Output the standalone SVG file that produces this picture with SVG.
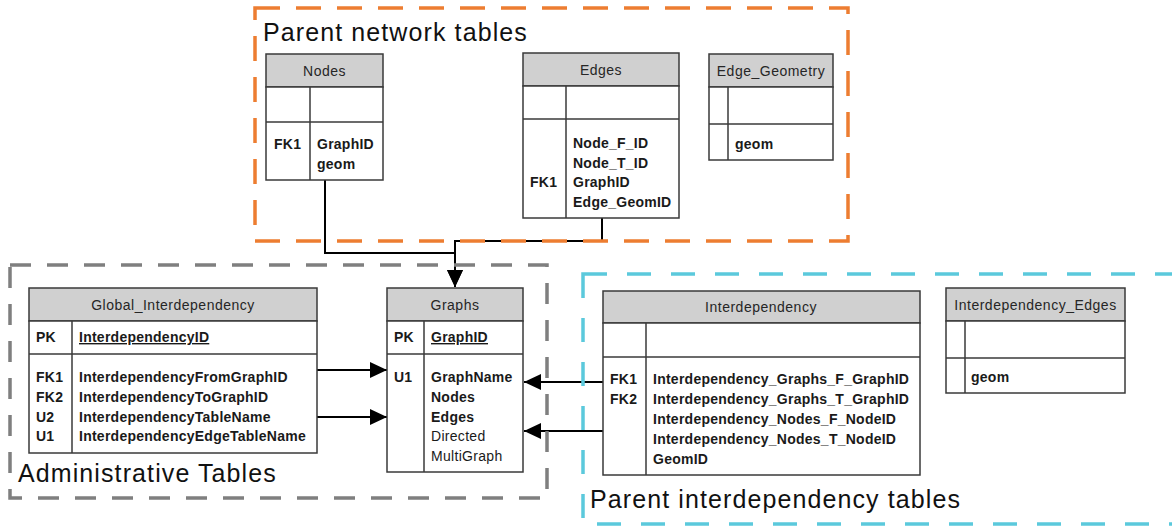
<svg xmlns="http://www.w3.org/2000/svg" width="1172" height="526" viewBox="0 0 1172 526">
<style>
.bg{fill:#ffffff}
.box{fill:#ffffff;stroke:#3a3a3a;stroke-width:1.5}
.hdr{fill:#d0d0d0;stroke:#3a3a3a;stroke-width:1.5}
.ln{stroke:#3a3a3a;stroke-width:1.5;fill:none}
.ht{font-family:"Liberation Sans",Arial,sans-serif;font-size:14px;fill:#262626;letter-spacing:0.5px;text-anchor:middle}
.ft{font-family:"Liberation Sans",Arial,sans-serif;font-size:14px;font-weight:bold;fill:#1a1a1a;letter-spacing:0.25px}
.nt{font-family:"Liberation Sans",Arial,sans-serif;font-size:14px;fill:#1a1a1a;letter-spacing:0.3px}
.ul{text-decoration:underline}
.big{font-family:"Liberation Sans",Arial,sans-serif;font-size:25px;fill:#111111;letter-spacing:1.1px}
.conn{stroke:#000000;stroke-width:2;fill:none}
.orange{fill:none;stroke:#ed7d31;stroke-width:3.5;stroke-dasharray:25 16}
.gray{fill:none;stroke:#7f7f7f;stroke-width:3.5;stroke-dasharray:21 16}
.cyan{fill:none;stroke:#5bc9dc;stroke-width:3.5;stroke-dasharray:24 20}
</style>
<defs>
<marker id="arr" viewBox="0 0 17 16" refX="17" refY="8" markerWidth="17" markerHeight="16" markerUnits="userSpaceOnUse" orient="auto">
<path d="M0,0 L17,8 L0,16 z" fill="#000000"/>
</marker>
</defs>
<rect class="bg" x="0" y="0" width="1172" height="526"/>

<g id="connectors">
<polyline class="conn" points="325,180 325,253 455,253 455,287" marker-end="url(#arr)"/>
<polyline class="conn" points="602,218 602,241 455,241 455,287" marker-end="url(#arr)"/>
<line class="conn" x1="317" y1="370" x2="387" y2="370" marker-end="url(#arr)"/>
<line class="conn" x1="317" y1="417" x2="387" y2="417" marker-end="url(#arr)"/>
<line class="conn" x1="603" y1="382" x2="524" y2="382" marker-end="url(#arr)"/>
<line class="conn" x1="603" y1="431" x2="524" y2="431" marker-end="url(#arr)"/>
</g>

<g id="parent-network-tables">
<rect class="orange" x="255" y="8" width="593" height="233"/>
<text class="big" x="263" y="41">Parent network tables</text>
</g>
<g id="administrative-tables">
<rect class="gray" x="10" y="265" width="537" height="233"/>
<text class="big" x="18" y="482">Administrative Tables</text>
</g>
<g id="parent-interdependency-tables">
<rect class="cyan" x="583" y="274" width="620" height="250"/>
<text class="big" x="590" y="508">Parent interdependency tables</text>
</g>

<g id="Nodes">
<rect class="hdr" x="266" y="54" width="117" height="33"/>
<rect class="box" x="266" y="87" width="117" height="93"/>
<line class="ln" x1="266" y1="122" x2="383" y2="122"/>
<line class="ln" x1="310" y1="87" x2="310" y2="180"/>
<text class="ht" x="324.5" y="76">Nodes</text>
<text class="ft" x="274" y="149">FK1</text>
<text class="ft" x="317" y="149">GraphID</text>
<text class="ft" x="317" y="169">geom</text>
</g>

<g id="Edges">
<rect class="hdr" x="523" y="53" width="156" height="33"/>
<rect class="box" x="523" y="86" width="156" height="132"/>
<line class="ln" x1="523" y1="119" x2="679" y2="119"/>
<line class="ln" x1="566" y1="86" x2="566" y2="218"/>
<text class="ht" x="601" y="75">Edges</text>
<text class="ft" x="530" y="187">FK1</text>
<text class="ft" x="573" y="148">Node_F_ID</text>
<text class="ft" x="573" y="168">Node_T_ID</text>
<text class="ft" x="573" y="187">GraphID</text>
<text class="ft" x="573" y="207">Edge_GeomID</text>
</g>

<g id="Edge_Geometry">
<rect class="hdr" x="709" y="54" width="124" height="33"/>
<rect class="box" x="709" y="87" width="124" height="73"/>
<line class="ln" x1="709" y1="124" x2="833" y2="124"/>
<line class="ln" x1="728" y1="87" x2="728" y2="160"/>
<text class="ht" x="771" y="76">Edge_Geometry</text>
<text class="ft" x="735" y="149">geom</text>
</g>

<g id="Global_Interdependency">
<rect class="hdr" x="29" y="288" width="288" height="33"/>
<rect class="box" x="29" y="321" width="288" height="132"/>
<line class="ln" x1="29" y1="354" x2="317" y2="354"/>
<line class="ln" x1="72" y1="321" x2="72" y2="453"/>
<text class="ht" x="173" y="310">Global_Interdependency</text>
<text class="ft" x="36" y="342">PK</text>
<text class="ft ul" x="79" y="342">InterdependencyID</text>
<text class="ft" x="36" y="382">FK1</text>
<text class="ft" x="36" y="402">FK2</text>
<text class="ft" x="36" y="422">U2</text>
<text class="ft" x="36" y="441">U1</text>
<text class="ft" x="79" y="382">InterdependencyFromGraphID</text>
<text class="ft" x="79" y="402">InterdependencyToGraphID</text>
<text class="ft" x="79" y="422">InterdependencyTableName</text>
<text class="ft" x="79" y="441">InterdependencyEdgeTableName</text>
</g>

<g id="Graphs">
<rect class="hdr" x="387" y="288" width="136" height="33"/>
<rect class="box" x="387" y="321" width="136" height="151"/>
<line class="ln" x1="387" y1="354" x2="523" y2="354"/>
<line class="ln" x1="424" y1="321" x2="424" y2="472"/>
<text class="ht" x="455" y="310">Graphs</text>
<text class="ft" x="394" y="342">PK</text>
<text class="ft ul" x="431" y="342">GraphID</text>
<text class="ft" x="394" y="382">U1</text>
<text class="ft" x="431" y="382">GraphName</text>
<text class="ft" x="431" y="402">Nodes</text>
<text class="ft" x="431" y="422">Edges</text>
<text class="nt" x="431" y="441">Directed</text>
<text class="nt" x="431" y="461">MultiGraph</text>
</g>

<g id="Interdependency">
<rect class="hdr" x="603" y="291" width="317" height="32"/>
<rect class="box" x="603" y="323" width="317" height="152"/>
<line class="ln" x1="603" y1="357" x2="920" y2="357"/>
<line class="ln" x1="646" y1="323" x2="646" y2="475"/>
<text class="ht" x="761" y="312">Interdependency</text>
<text class="ft" x="610" y="384">FK1</text>
<text class="ft" x="610" y="404">FK2</text>
<text class="ft" x="653" y="384">Interdependency_Graphs_F_GraphID</text>
<text class="ft" x="653" y="404">Interdependency_Graphs_T_GraphID</text>
<text class="ft" x="653" y="424">Interdependency_Nodes_F_NodeID</text>
<text class="ft" x="653" y="444">Interdependency_Nodes_T_NodeID</text>
<text class="ft" x="653" y="464">GeomID</text>
</g>

<g id="Interdependency_Edges">
<rect class="hdr" x="946" y="288" width="179" height="33"/>
<rect class="box" x="946" y="321" width="179" height="72"/>
<line class="ln" x1="946" y1="358" x2="1125" y2="358"/>
<line class="ln" x1="965" y1="321" x2="965" y2="393"/>
<text class="ht" x="1035.5" y="310">Interdependency_Edges</text>
<text class="ft" x="971" y="382">geom</text>
</g>
</svg>
